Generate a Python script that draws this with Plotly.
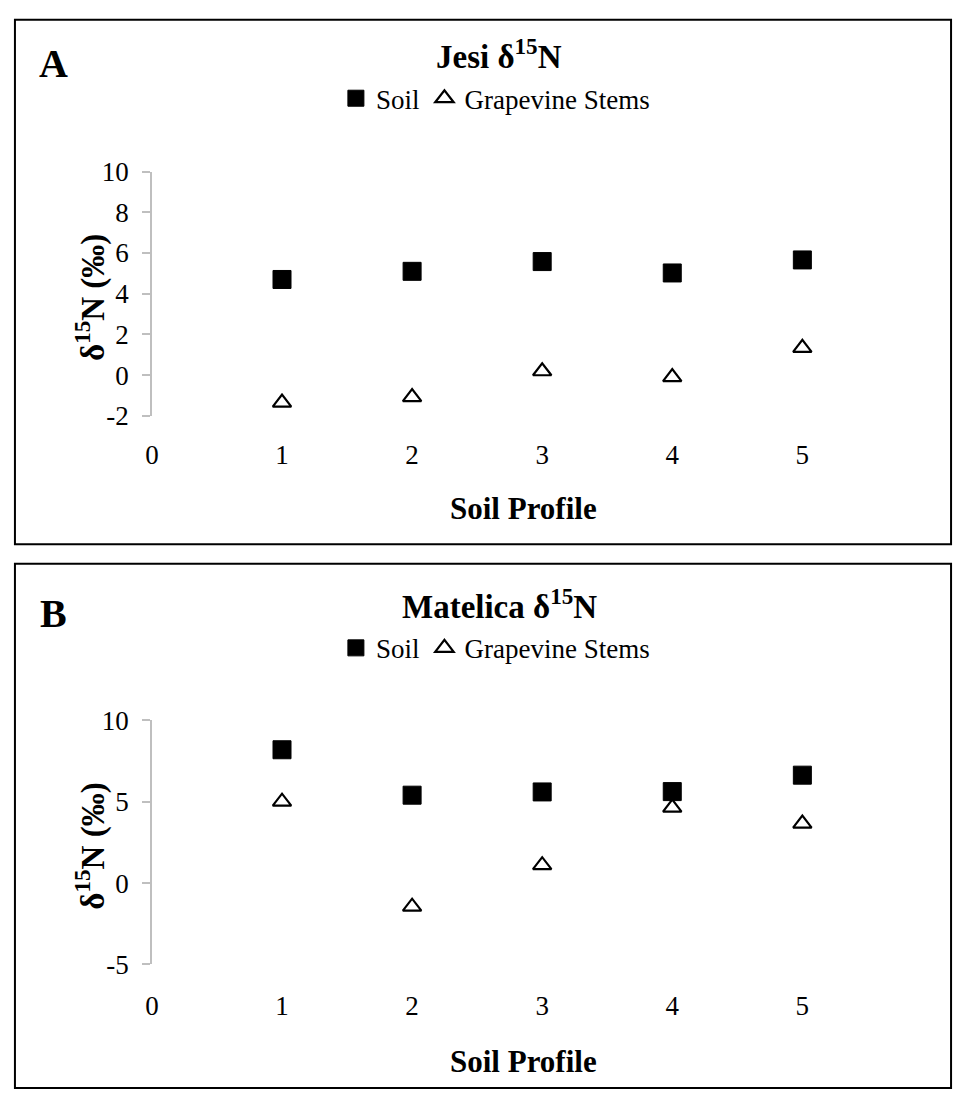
import plotly.graph_objects as go

W, H = 958, 1104

profiles = [1, 2, 3, 4, 5]
x_ticks = [0, 1, 2, 3, 4, 5]
x_tick_labels = ["0", "1", "2", "3", "4", "5"]

jesi_soil = [4.70, 5.10, 5.58, 5.02, 5.66]
jesi_stems = [-1.35, -1.08, 0.19, -0.10, 1.34]
jesi_y_ticks = [-2, 0, 2, 4, 6, 8, 10]
jesi_y_labels = ["-2", "0", "2", "4", "6", "8", "10"]

matelica_soil = [8.19, 5.40, 5.60, 5.62, 6.63]
matelica_stems = [5.00, -1.45, 1.10, 4.64, 3.65]
matelica_y_ticks = [-5, 0, 5, 10]
matelica_y_labels = ["-5", "0", "5", "10"]

series_names = ["Soil", "Grapevine Stems"]
panel_titles = ["Jesi δ<sup>15</sup>N", "Matelica δ<sup>15</sup>N"]
panel_letters = ["A", "B"]
x_title = "Soil Profile"
y_title = "δ<sup>15</sup>N (‰)"

FONT = "Liberation Serif"
AX = "#bfbfbf"


def py(p):
    return 1 - p / H


def px(p):
    return p / W


fig = go.Figure()

soil_marker = dict(symbol="square", size=18, color="black", line=dict(color="black", width=1))
stem_marker = dict(symbol="triangle-up", size=16, color="white", line=dict(color="black", width=2.2))

fig.add_trace(go.Scatter(x=profiles, y=jesi_soil, mode="markers", name=series_names[0],
                         marker=soil_marker, xaxis="x", yaxis="y", legend="legend"))
fig.add_trace(go.Scatter(x=profiles, y=jesi_stems, mode="markers", name=series_names[1],
                         marker=stem_marker, xaxis="x", yaxis="y", legend="legend"))
fig.add_trace(go.Scatter(x=profiles, y=matelica_soil, mode="markers", name=series_names[0],
                         marker=soil_marker, xaxis="x3", yaxis="y3", legend="legend2"))
fig.add_trace(go.Scatter(x=profiles, y=matelica_stems, mode="markers", name=series_names[1],
                         marker=stem_marker, xaxis="x3", yaxis="y3", legend="legend2"))

xdom = [px(146), px(889)]
xrange_ = [0, 5.67]

OFF = 565
panels = [
    dict(top=161, bottom=412, zero=370, yr=[-2, 10], yt=jesi_y_ticks, yl=jesi_y_labels, off=0,
         lab_standoff=20, xt=507, frame=(8, 5, 951, 544)),
    dict(top=725, bottom=976, zero=893, yr=[-5, 10], yt=matelica_y_ticks, yl=matelica_y_labels,
         off=OFF, lab_standoff=23, xt=507 + OFF + 4, frame=(8, 564, 951, 1103)),
]

tickfont = dict(family=FONT, size=27, color="black")

layout = dict(
    width=W, height=H,
    margin=dict(l=0, r=0, t=0, b=0),
    paper_bgcolor="white", plot_bgcolor="rgba(0,0,0,0)",
    showlegend=True,
)

axis_ids = [("x", "y", "x2"), ("x3", "y3", "x4")]
annotations = []
shapes = []


def ann(text, x, y, size, angle=0):
    return dict(text=text, x=px(x), y=py(y), xref="paper", yref="paper", showarrow=False,
                xanchor="center", yanchor="middle", textangle=angle,
                font=dict(family=FONT, size=size, color="black"))


for i, (p, (xa, ya, xz)) in enumerate(zip(panels, axis_ids)):
    xkey = "xaxis" if xa == "x" else "xaxis" + xa[1:]
    ykey = "yaxis" if ya == "y" else "yaxis" + ya[1:]
    zkey = "xaxis" + xz[1:]
    ydom = [py(p["bottom"]), py(p["top"])]
    layout[xkey] = dict(domain=xdom, range=xrange_, anchor=ya, showline=False, ticks="",
                        showgrid=False, zeroline=False, tickvals=x_ticks, ticktext=x_tick_labels,
                        tickfont=tickfont, ticklabelstandoff=p["lab_standoff"])
    layout[zkey] = dict(domain=xdom, range=xrange_, overlaying=xa, anchor="free",
                        position=py(p["zero"]), showline=True, linecolor=AX, linewidth=1.5,
                        ticks="outside", ticklen=8, tickcolor=AX, tickwidth=1.5,
                        tickvals=x_ticks[1:], showticklabels=False, showgrid=False, zeroline=False)
    layout[ykey] = dict(domain=ydom, range=p["yr"], anchor=xa, showline=True, linecolor=AX,
                        linewidth=1.5, ticks="outside", ticklen=8, tickcolor=AX, tickwidth=1.5,
                        tickvals=p["yt"], ticktext=p["yl"], showgrid=False, zeroline=False,
                        tickfont=tickfont, ticklabelstandoff=8)
    lkey = "legend" if i == 0 else "legend2"
    layout[lkey] = dict(orientation="h", x=px(492), y=py(86 + p["off"]), xanchor="center",
                        yanchor="middle", font=dict(family=FONT, size=27, color="black"),
                        bgcolor="rgba(0,0,0,0)", itemwidth=30)
    x0, y0, x1, y1 = p["frame"]
    shapes.append(dict(type="rect", xref="paper", yref="paper", x0=px(x0), x1=px(x1),
                       y0=py(y1), y1=py(y0), line=dict(color="black", width=2)))
    annotations.append(ann("<b>%s</b>" % panel_letters[i], 47, 50 + p["off"], 40))
    annotations.append(ann("<b>%s</b>" % panel_titles[i], 496, 40 + p["off"], 33))
    annotations.append(ann("<b>%s</b>" % x_title, 520, p["xt"], 31))
    annotations.append(ann("<b>%s</b>" % y_title, 84, (p["top"] + p["bottom"]) / 2 + 4, 33, -90))

layout["annotations"] = annotations
layout["shapes"] = shapes
fig.update_layout(**layout)
fig.write_html("out.html", config={"displayModeBar": False},
               post_script="document.body.style.margin='0';document.body.style.overflow='hidden';")
